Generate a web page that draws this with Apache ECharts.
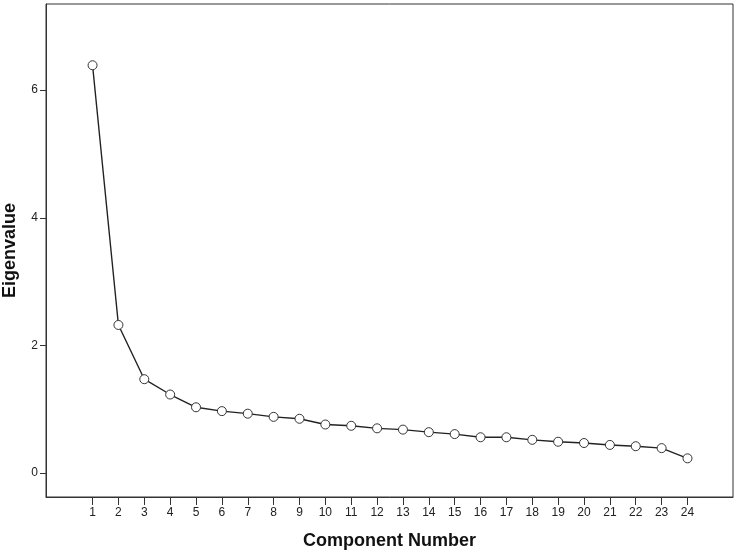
<!DOCTYPE html>
<html>
<head>
<meta charset="utf-8">
<script src="https://cdn.jsdelivr.net/npm/echarts@6/dist/echarts.min.js"></script>
<style>
    html, body { margin: 0; padding: 0; background: #fff; }
    #scree { width: 738px; height: 554px; }
</style>
</head>
<body>
<div id="scree"></div>
<script>
// scree plot data
var components = [1, 2, 3, 4, 5, 6, 7, 8, 9, 10, 11, 12, 13, 14, 15, 16, 17, 18, 19, 20, 21, 22, 23, 24];
var eigenvalues = [6.39, 2.32, 1.47, 1.23, 1.03, 0.97, 0.93, 0.88, 0.85, 0.76, 0.74, 0.70,
                   0.68, 0.64, 0.61, 0.56, 0.56, 0.52, 0.49, 0.47, 0.44, 0.42, 0.39, 0.23];
var yTicks = [0, 2, 4, 6];

var points = components.map(function (c, i) { return [c, eigenvalues[i]]; });

var myChart = echarts.init(document.getElementById('scree'));

var labelFont = { color: '#222', fontFamily: 'Liberation Sans, Arial, sans-serif', fontSize: 12 };
var nameFont = { color: '#111', fontFamily: 'Liberation Sans, Arial, sans-serif', fontSize: 18, fontWeight: 'bold' };

option = {
    animation: false,
    grid: {
        left: 46,
        right: 5,
        top: 4,
        bottom: 57,
        containLabel: false,
        outerBoundsMode: 'none',
        show: true,
        borderColor: '#333',
        borderWidth: 1
    },
    xAxis: {
        type: 'value',
        min: -0.8,
        max: 25.76,
        name: 'Component Number',
        nameLocation: 'middle',
        nameGap: 35,
        nameTextStyle: nameFont,
        splitLine: { show: false },
        axisLine: { onZero: false, lineStyle: { color: '#333' } },
        axisTick: { customValues: components, length: 8, lineStyle: { color: '#333' } },
        axisLabel: Object.assign({ customValues: components, margin: 10 }, labelFont)
    },
    yAxis: {
        type: 'value',
        min: -0.376,
        max: 7.35,
        name: 'Eigenvalue',
        nameLocation: 'middle',
        nameGap: 27,
        nameTextStyle: nameFont,
        splitLine: { show: false },
        axisLine: { show: true, onZero: false, lineStyle: { color: '#333' } },
        axisTick: { show: true, customValues: yTicks, length: 6, lineStyle: { color: '#333' } },
        axisLabel: Object.assign({ customValues: yTicks, margin: 8 }, labelFont)
    },
    series: [{
        type: 'line',
        data: points,
        symbol: 'circle',
        symbolSize: 9,
        lineStyle: { color: '#222', width: 1.4 },
        itemStyle: { color: '#fff', borderColor: '#333', borderWidth: 1 }
    }]
};

myChart.setOption(option);
</script>
</body>
</html>
